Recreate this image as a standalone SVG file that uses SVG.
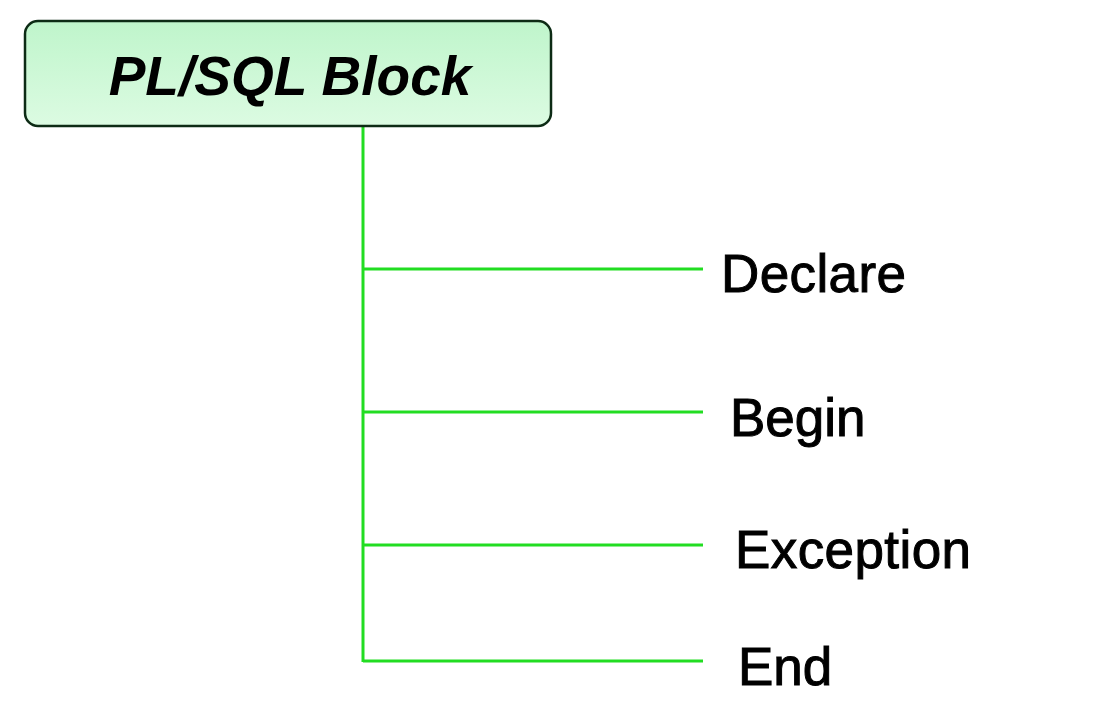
<svg xmlns="http://www.w3.org/2000/svg" width="1114" height="710" viewBox="0 0 1114 710">
<defs>
<linearGradient id="g" x1="0" y1="0" x2="0" y2="1">
<stop offset="0" stop-color="#bff5cb"/>
<stop offset="1" stop-color="#dcfbe2"/>
</linearGradient>
<style>
.conn{stroke:#22dd22;stroke-width:3;fill:none}
.lbl{font-family:"Liberation Sans",Arial,sans-serif;font-size:53px;fill:#000;stroke:#000;stroke-width:1}
.title{font-family:"Liberation Sans",Arial,sans-serif;font-size:55px;font-weight:bold;font-style:italic;fill:#000}
</style>
</defs>
<rect width="1114" height="710" fill="#fff"/>
<g id="connectors">
<path class="conn" d="M363 126 V662"/>
<path class="conn" d="M363 269 H703"/>
<path class="conn" d="M363 412 H703"/>
<path class="conn" d="M363 545 H703"/>
<path class="conn" d="M363 661 H703"/>
</g>
<g id="root">
<rect x="25" y="21" width="526" height="105" rx="13" fill="url(#g)" stroke="#0d2b15" stroke-width="2.5"/>
<text class="title" x="290" y="95" text-anchor="middle">PL/SQL Block</text>
</g>
<g id="declare"><text class="lbl" x="721" y="292" textLength="185">Declare</text></g>
<g id="begin"><text class="lbl" x="730" y="436">Begin</text></g>
<g id="exception"><text class="lbl" x="735" y="568" textLength="236">Exception</text></g>
<g id="end"><text class="lbl" x="738" y="685">End</text></g>
</svg>
